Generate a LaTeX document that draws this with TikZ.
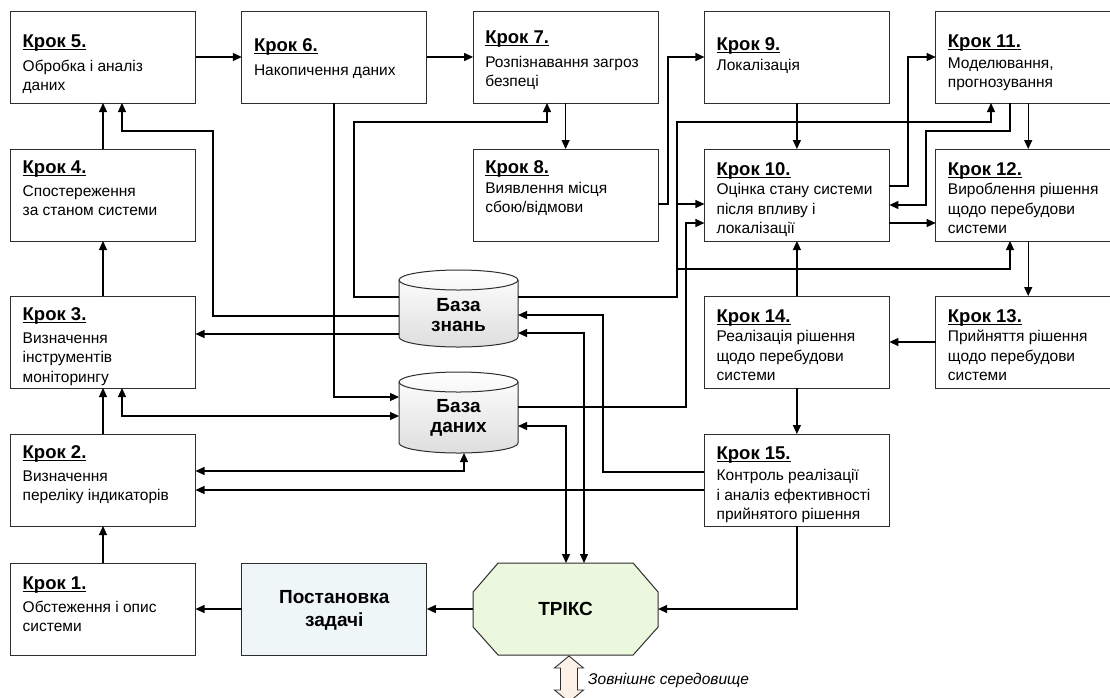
\documentclass[tikz,border=0pt]{standalone}
\usepackage{fontspec}
\setmainfont{Liberation Sans}
\usetikzlibrary{arrows.meta}
\definecolor{trixfill}{RGB}{235,248,222}
\definecolor{taskfill}{RGB}{238,246,248}
\definecolor{envfill}{RGB}{253,240,230}
\definecolor{boxline}{RGB}{45,45,45}
% bold underlined step heading; optional argument = extra gap below it
\newcommand\stephd[2][0pt]{\setbox0\hbox{\fontsize{18.5}{20}\selectfont\bfseries #2}%
  \rule{0pt}{15pt}\rlap{\rule[-2.6pt]{\wd0}{1.3pt}}\box0\\[#1]}
\begin{document}
\begin{tikzpicture}[x=1pt,y=-1pt,
  stepbox/.style={draw=boxline, line width=1pt, fill=white, minimum width=185pt,
    minimum height=92pt, inner sep=0pt, outer sep=0pt, anchor=north west},
  steptext/.style={anchor=north west, inner sep=0pt, align=left,
    font=\fontsize{15.5}{19.5}\selectfont},
  boldtext/.style={inner sep=0pt, align=center,
    font=\fontsize{19}{22}\selectfont\bfseries},
  conn/.style={line width=1.2pt, draw=black},
  arr/.style={conn, -{Triangle[length=9pt,width=8pt]}},
  biarr/.style={conn, {Triangle[length=9pt,width=8pt]}-{Triangle[length=9pt,width=8pt]}},
  dbshape/.style={draw=boxline, line width=1pt, top color=white, bottom color=black!13},
]
\useasboundingbox (0,0) rectangle (1110,697);

% ---------- step boxes ----------
\node[stepbox] (k5)  at (10.5,11) {};
\node[stepbox] (k6)  at (241.8,11) {};
\node[stepbox] (k7)  at (473.1,11) {};
\node[stepbox] (k9)  at (704.4,11) {};
\node[stepbox] (k11) at (935.7,11) {};
\node[stepbox] (k4)  at (10.5,149) {};
\node[stepbox] (k8)  at (473.1,149) {};
\node[stepbox] (k10) at (704.4,149) {};
\node[stepbox] (k12) at (935.7,149) {};
\node[stepbox] (k3)  at (10.5,296) {};
\node[stepbox] (k14) at (704.4,296) {};
\node[stepbox] (k13) at (935.7,296) {};
\node[stepbox] (k2)  at (10.5,434) {};
\node[stepbox] (k15) at (704.4,434) {};
\node[stepbox] (k1)  at (10.5,563) {};
\node[stepbox, fill=taskfill] (task) at (241.8,563) {};

% octagonal TRIKS block
\node[minimum width=185pt, minimum height=92pt, inner sep=0pt, outer sep=0pt,
  anchor=north west] (trix) at (473.1,563) {};
\draw[boxline, line width=1pt, fill=trixfill]
  (498.1,563) -- (633.1,563) -- (658.1,592) -- (658.1,627) -- (633.1,655)
  -- (498.1,655) -- (473.1,627) -- (473.1,592) -- cycle;

% ---------- step texts ----------
\node[steptext] (k5t)  at ([xshift=12pt,yshift=-21pt]k5.north west)  {\stephd[4.5pt]{Крок 5.}Обробка і аналіз\\даних};
\node[steptext] (k6t)  at ([xshift=12pt,yshift=-25.5pt]k6.north west) {\stephd[4pt]{Крок 6.}Накопичення даних};
\node[steptext] (k7t)  at ([xshift=12pt,yshift=-17pt]k7.north west)  {\stephd[4.5pt]{Крок 7.}Розпізнавання загроз\\безпеці};
\node[steptext] (k9t)  at ([xshift=12pt,yshift=-24pt]k9.north west)  {\stephd[0.5pt]{Крок 9.}Локалізація};
\node[steptext] (k11t) at ([xshift=12pt,yshift=-21pt]k11.north west) {\stephd[1.5pt]{Крок 11.}Моделювання,\\прогнозування};
\node[steptext] (k4t)  at ([xshift=12pt,yshift=-9pt]k4.north west)   {\stephd[3.5pt]{Крок 4.}Спостереження\\за станом системи};
\node[steptext] (k8t)  at ([xshift=12pt,yshift=-9pt]k8.north west)   {\stephd[0.5pt]{Крок 8.}Виявлення місця\\сбою/відмови};
\node[steptext] (k10t) at ([xshift=12pt,yshift=-11pt]k10.north west) {\stephd{Крок 10.}Оцінка стану системи\\після впливу і\\локалізації};
\node[steptext] (k12t) at ([xshift=12pt,yshift=-11pt]k12.north west) {\stephd{Крок 12.}Вироблення рішення\\щодо перебудови\\системи};
\node[steptext] (k3t)  at ([xshift=12pt,yshift=-9pt]k3.north west)   {\stephd[3.5pt]{Крок 3.}Визначення\\інструментів\\моніторингу};
\node[steptext] (k14t) at ([xshift=12pt,yshift=-11pt]k14.north west) {\stephd{Крок 14.}Реалізація рішення\\щодо перебудови\\системи};
\node[steptext] (k13t) at ([xshift=12pt,yshift=-11pt]k13.north west) {\stephd{Крок 13.}Прийняття рішення\\щодо перебудови\\системи};
\node[steptext] (k2t)  at ([xshift=12pt,yshift=-9pt]k2.north west)   {\stephd[3.5pt]{Крок 2.}Визначення\\переліку індикаторів};
\node[steptext] (k15t) at ([xshift=12pt,yshift=-10pt]k15.north west) {\stephd[2pt]{Крок 15.}Контроль реалізації\\і аналіз ефективності\\прийнятого рішення};
\node[steptext] (k1t)  at ([xshift=12pt,yshift=-11pt]k1.north west)  {\stephd[3.5pt]{Крок 1.}Обстеження і опис\\системи};
\node[boldtext, font=\fontsize{19}{23}\selectfont\bfseries] (taskt) at ([yshift=-1.5pt]task.center) {Постановка\\задачі};
\node[boldtext] (trixt) at (trix.center) {ТРІКС};

% ---------- databases ----------
\node[minimum width=119pt, minimum height=77pt, inner sep=0pt, outer sep=0pt] (bz) at (458.5,308.5) {};
\node[minimum width=119pt, minimum height=81pt, inner sep=0pt, outer sep=0pt] (bd) at (458.5,412.5) {};
\path[dbshape] (399,280) -- (399,337) arc[start angle=180, end angle=0, x radius=59.5, y radius=10]
  -- (518,280) arc[start angle=0, end angle=-180, x radius=59.5, y radius=10] -- cycle;
\draw[boxline, line width=1pt] (399,280) arc[start angle=180, end angle=0, x radius=59.5, y radius=10];
\path[dbshape] (399,382) -- (399,443) arc[start angle=180, end angle=0, x radius=59.5, y radius=10]
  -- (518,443) -- (518,382) arc[start angle=0, end angle=-180, x radius=59.5, y radius=10] -- cycle;
\draw[boxline, line width=1pt] (399,382) arc[start angle=180, end angle=0, x radius=59.5, y radius=10];
\node[boldtext, font=\fontsize{19}{20.5}\selectfont\bfseries] (bzt) at (458.5,315) {База\\знань};
\node[boldtext, font=\fontsize{19}{20.5}\selectfont\bfseries] (bdt) at (458.5,418) {База\\даних};

% ---------- main chain ----------
\draw[arr] (k1.north) -- (k2.south);
\draw[arr] (k2.north) -- (k3.south);
\draw[arr] (k3.north) -- (k4.south);
\draw[arr] (k4.north) -- (k5.south);
\draw[arr] (k5.east) -- (k6.west);
\draw[arr] (k6.east) -- (k7.west);
\draw[arr] (k7.south) -- (k8.north);
\draw[arr] (k8.east |- 0,204) -- (668,204) |- (k9.west);
\draw[arr] (k9.south) -- (k10.north);
\draw[arr] (k10.east |- 0,186) -- (908,186) |- (k11.west);
\draw[arr] (k11.south) -- (k12.north);
\draw[arr] (k11.south -| 1010,0) |- (926,131) |- (k10.east |- 0,205);
\draw[arr] (k10.east |- 0,223) -- (k12.west |- 0,223);
\draw[arr] (k12.south) -- (k13.north);
\draw[arr] (k13.west) -- (k14.east);
\draw[arr] (k14.north) -- (k10.south);
\draw[arr] (k14.south) -- (k15.north);
\draw[arr] (k15.south) |- (trix.east);
\draw[arr] (trix.west) -- (task.east);
\draw[arr] (task.west) -- (k1.east);

% ---------- knowledge base links ----------
\draw[arr] (bz.west |- 0,316) -| (213,131) -| (k5.south -| 122,0);
\draw[arr] (bz.west |- 0,334) -- (k3.east |- 0,334);
\draw[arr] (bz.west |- 0,297) -| (354,122) -| (k7.south -| 547,0);
\draw[arr] (bz.east |- 0,297) -| (677,122) -| (k11.south -| 991,0);
\draw[arr] (677,204) -- (k10.west |- 0,204);
\draw[arr] (677,269) -| (k12.south -| 1010,0);
\draw[arr] (k15.west |- 0,472) -| (603,315) -- (bz.east |- 0,315);
\draw[biarr] (bz.east |- 0,333) -| (trix.north -| 584,0);

% ---------- database links ----------
\draw[arr] (k6.south -| 334,0) |- (bd.west |- 0,397);
\draw[arr] (bd.east |- 0,407) -| (686,223) -- (k10.west |- 0,223);
\draw[biarr] (bd.east |- 0,426) -| (trix.north -| 566,0);
\draw[biarr] (k3.south -| 122,0) |- (bd.west |- 0,416);
\draw[biarr] (k2.east |- 0,471) -| (bd.south -| 464,0);
\draw[arr] (k15.west |- 0,490) -- (k2.east |- 0,490);

% ---------- external environment ----------
\begin{scope}
\clip (0,0) rectangle (1110,697);
\draw[boxline, line width=0.9pt, fill=envfill]
  (569,656) -- (583.5,668) -- (577.5,668) -- (577.5,690) -- (583.5,690) -- (569,702)
  -- (554.5,690) -- (560.5,690) -- (560.5,668) -- (554.5,668) -- cycle;
\end{scope}
\node[anchor=base west, inner sep=0pt, font=\fontsize{15.5}{18}\selectfont\itshape] (env) at (588,684) {Зовнішнє середовище};
\end{tikzpicture}
\end{document}
